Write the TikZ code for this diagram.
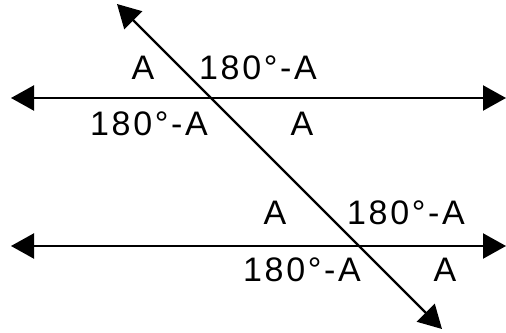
\documentclass[tikz,border=0pt]{standalone}
\usepackage{fontspec}
\setmainfont[LetterSpace=8]{Liberation Sans}
\usetikzlibrary{arrows.meta}
\begin{document}
\begin{tikzpicture}[x=1pt,y=-1pt,
  lineseg/.style={line width=2.2pt, {Triangle[length=23pt,width=25pt]}-{Triangle[length=23pt,width=25pt]}},
  lbl/.style={font=\fontsize{34}{34}\selectfont, inner sep=0pt, anchor=center}]
\useasboundingbox (0,0) rectangle (506,332);
\coordinate (L1) at (11,98);
\coordinate (R1) at (506,98);
\coordinate (L2) at (11,246);
\coordinate (R2) at (506,246);
\coordinate (T) at (117,4);
\coordinate (B) at (442,329);
\draw[lineseg] (L1) -- (R1);
\draw[lineseg] (L2) -- (R2);
\draw[lineseg] (T) -- (B);
\node[lbl] (a1) at (143,68) {A};
\node[lbl] (b1) at (258,68) {180°-A};
\node[lbl] (b2) at (149,124) {180°-A};
\node[lbl] (a2) at (302,124) {A};
\node[lbl] (a3) at (275,213) {A};
\node[lbl] (b3) at (406,213) {180°-A};
\node[lbl] (b4) at (302,270) {180°-A};
\node[lbl] (a4) at (445,270) {A};
\end{tikzpicture}
\end{document}
